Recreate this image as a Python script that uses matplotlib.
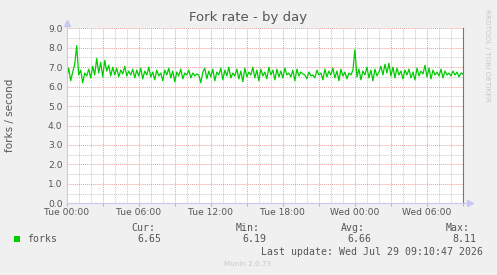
import matplotlib
matplotlib.use("Agg")
import matplotlib.pyplot as plt
import numpy as np

# fork rate, one value every 10 minutes from Tue 00:00 (forks / second)
forks = [
    6.45, 6.95, 6.30, 6.75, 7.15, 8.11, 6.60, 6.85, 6.19, 6.70, 6.55, 6.90,
    6.45, 7.05, 6.60, 7.45, 6.70, 7.25, 6.50, 7.35, 6.80, 7.10, 6.55, 7.00,
    6.60, 6.95, 6.50, 6.85, 6.65, 7.05, 6.55, 6.80, 6.60, 6.90, 6.45, 6.85,
    6.55, 6.95, 6.40, 6.80, 6.60, 7.00, 6.50, 6.75, 6.35, 6.85, 6.55, 6.70,
    6.30, 6.85, 6.60, 6.95, 6.45, 6.80, 6.25, 6.75, 6.55, 6.90, 6.40, 6.70,
    6.60, 6.85, 6.45, 6.70, 6.55, 6.65, 6.60, 6.20, 6.75, 6.95, 6.40, 6.80,
    6.50, 6.90, 6.30, 6.75, 6.60, 6.95, 6.35, 6.85, 6.55, 7.00, 6.45, 6.70,
    6.55, 6.90, 6.40, 6.80, 6.25, 6.95, 6.50, 6.75, 6.60, 7.00, 6.45, 6.85,
    6.30, 6.90, 6.55, 6.75, 6.40, 7.00, 6.60, 6.85, 6.35, 6.90, 6.50, 6.80,
    6.45, 6.95, 6.60, 6.70, 6.50, 6.85, 6.30, 6.90, 6.55, 6.75, 6.65, 6.60,
    6.40, 6.75, 6.55, 6.60, 6.45, 6.85, 6.60, 6.70, 6.35, 6.90, 6.50, 6.80,
    6.60, 6.95, 6.45, 6.80, 6.30, 6.90, 6.55, 6.75, 6.40, 6.70, 6.60, 6.85,
    7.90, 6.50, 6.90, 6.35, 6.80, 6.60, 7.00, 6.45, 6.85, 6.30, 6.90, 6.55,
    6.75, 7.05, 6.60, 7.15, 6.70, 7.20, 6.55, 7.00, 6.45, 6.95, 6.60, 6.80,
    6.40, 6.85, 6.60, 6.90, 6.45, 6.75, 6.35, 6.95, 6.55, 6.80, 6.65, 7.10,
    6.50, 6.95, 6.40, 6.85, 6.60, 6.75, 6.55, 6.90, 6.45, 6.80, 6.60, 6.70,
    6.55, 6.80, 6.60, 6.75, 6.50, 6.70, 6.65,
]
step_h = 10 / 60.0
tick_hours = [0, 6, 12, 18, 24, 30]
tick_labels = ["Tue 00:00", "Tue 06:00", "Tue 12:00", "Tue 18:00", "Wed 00:00", "Wed 06:00"]
stat_names = ["Cur:", "Min:", "Avg:", "Max:"]
stat_values = ["6.65", "6.19", "6.66", "8.11"]

hours = np.arange(len(forks)) * step_h

txt = "#555555"
fig = plt.figure(figsize=(4.97, 2.75), dpi=100, facecolor="#F0F0F0")
ax = fig.add_axes([66.7 / 497, 1 - 203.3 / 275, 396.3 / 497, 175 / 275])
ax.set_facecolor("white")

ax.set_xlim(0, 33)
ax.set_ylim(0, 9)

# grid: grey minor, red major, both dotted
ax.set_xticks(np.arange(0, 34, 3))
ax.set_xticklabels([tick_labels[tick_hours.index(h)] if h in tick_hours else "" for h in range(0, 34, 3)])
ax.set_xticks(np.arange(0, 34, 1), minor=True)
ax.set_yticks(np.arange(0, 9.5, 1))
ax.set_yticklabels(["%.1f" % v for v in np.arange(0, 9.5, 1)])
ax.set_yticks(np.arange(0, 9.5, 0.5), minor=True)
ax.grid(which="minor", color="#C8C8C8", linestyle=(0, (1, 1)), linewidth=0.7)
ax.grid(which="major", color="#E8A0A0", linestyle=(0, (1, 1)), linewidth=0.7)
ax.set_axisbelow(True)

ax.tick_params(which="both", length=0, labelsize=6.6, labelcolor=txt, pad=3)
ax.tick_params(axis="x", which="major", length=2, color="#E8A0A0", direction="out", pad=1.5)

for s in ["top"]:
    ax.spines[s].set_visible(False)
ax.spines["left"].set_color("#C8C8F0")
ax.spines["bottom"].set_color("#C8C8F0")
ax.spines["right"].set_color("#777777")
for s in ax.spines.values():
    s.set_linewidth(0.8)

ax.plot(hours, forks, color="#00CC00", linewidth=0.9)

# little arrows at axis ends
ax.plot([0], [1.03], marker="^", color="#C8C8F0", markersize=4, transform=ax.transAxes, clip_on=False)
ax.plot([1.018], [0], marker=">", color="#C8C8F0", markersize=4, transform=ax.transAxes, clip_on=False)
ax.plot([0, 0], [1.0, 1.03], color="#C8C8F0", linewidth=0.8, transform=ax.transAxes, clip_on=False)
ax.plot([1.0, 1.018], [0, 0], color="#C8C8F0", linewidth=0.8, transform=ax.transAxes, clip_on=False)

fig.text(248 / 497, 1 - 18 / 275, "Fork rate - by day", ha="center", va="center", fontsize=9.5, color=txt)
fig.text(10 / 497, 1 - 115 / 275, "forks / second", rotation=90, ha="center", va="center", fontsize=7.5, color=txt)
fig.text(487 / 497, 1 - 55 / 275, "RRDTOOL / TOBI OETIKER", rotation=270, ha="center", va="center",
         fontsize=5.2, color="#C8C8C8")

mono = "DejaVu Sans Mono"
fig.patches.append(plt.Rectangle((14 / 497, 1 - 241.5 / 275), 6 / 497, 6 / 275, transform=fig.transFigure,
                                 facecolor="#00CC00", edgecolor="none"))
fig.text(27 / 497, 1 - 239 / 275, "forks", family=mono, fontsize=7.1, color=txt, va="center")
name_right = [155, 260, 365, 470]
for nm, val, xr in zip(stat_names, stat_values, name_right):
    fig.text(xr / 497, 1 - 227.7 / 275, nm, family=mono, fontsize=7.1, color=txt, ha="right", va="center")
    fig.text((xr + 6) / 497, 1 - 239 / 275, val, family=mono, fontsize=7.1, color=txt, ha="right", va="center")
fig.text(483 / 497, 1 - 251.7 / 275, "Last update: Wed Jul 29 09:10:47 2026", family=mono, fontsize=7.1,
         color=txt, ha="right", va="center")
fig.text(248 / 497, 1 - 264 / 275, "Munin 2.0.73", fontsize=5.2, color="#C8C8C8", ha="center", va="center")

fig.savefig("out.png", dpi=100, facecolor=fig.get_facecolor())
